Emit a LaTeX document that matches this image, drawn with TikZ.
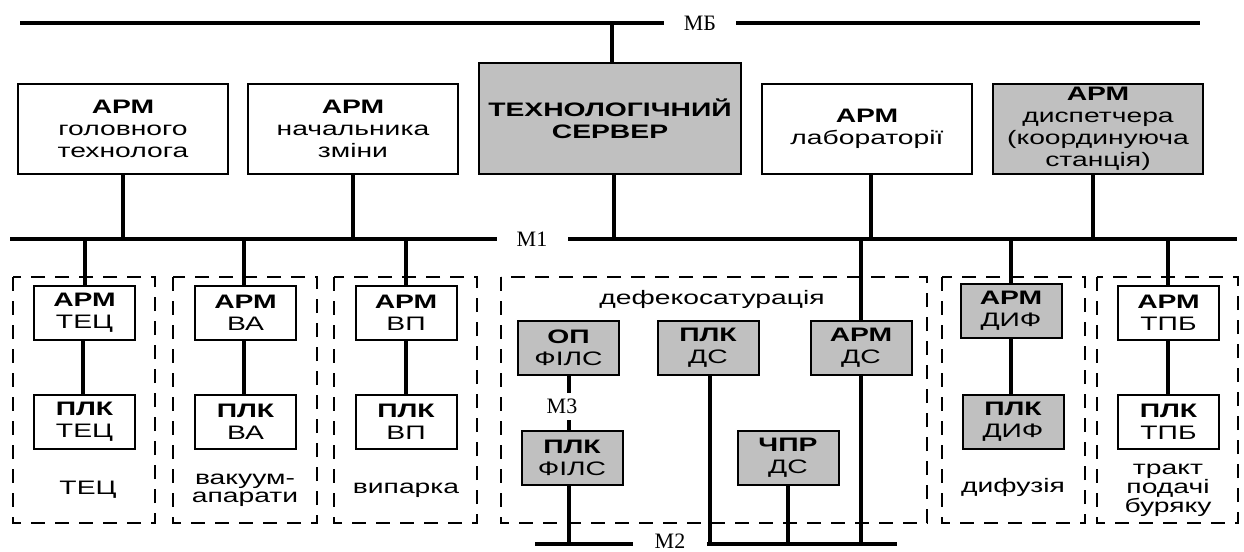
\documentclass[tikz,border=0pt]{standalone}
\usepackage{fontspec}
\setmainfont{Liberation Serif}
\newfontfamily\boxsans[FakeStretch=1.45]{Liberation Sans}
\definecolor{boxgray}{RGB}{192,192,192}
\begin{document}
\begin{tikzpicture}[x=0.5pt,y=-0.5pt,
  box/.style={draw, line width=1pt, rectangle, inner sep=0pt, align=center,
    font=\boxsans\fontsize{9.75}{11}\selectfont},
  topbox/.style={box, minimum width=105pt, minimum height=45pt},
  smallbox/.style={box, minimum width=50.5pt, minimum height=27pt},
  grey/.style={fill=boxgray},
  bus/.style={line width=2pt},
  conn/.style={line width=2pt},
  grp/.style={draw, line width=1pt, dash pattern=on 7pt off 5pt},
  grplabel/.style={align=center, inner sep=0pt, font=\boxsans\fontsize{9.75}{11}\selectfont},
  buslabel/.style={fill=white, inner sep=0pt, font=\fontsize{11}{12}\selectfont,
    minimum width=36pt, minimum height=13pt}
]
\clip (0,0) rectangle (1244,552);
\fill[white] (0,0) rectangle (1244,552);

% buses
\coordinate (mbL) at (20,23);
\coordinate (mbR) at (1200,23);
\coordinate (m1L) at (10,239);
\coordinate (m1R) at (1237,239);
\coordinate (m2L) at (535,544);
\coordinate (m2R) at (897,544);

% top boxes
\node[topbox] (b1) at (123,129) {{\bfseries АРМ}\\головного\\технолога};
\node[topbox] (b2) at (353,129) {{\bfseries АРМ}\\начальника\\зміни};
\node[box, grey, minimum width=131pt, minimum height=55.5pt] (srv) at (610,118.5) {\bfseries ТЕХНОЛОГІЧНИЙ\\\bfseries СЕРВЕР};
\node[topbox] (b4) at (867,129) {{\bfseries АРМ}\\лабораторії};
\node[topbox, grey] (b5) at (1098,129) {{\bfseries АРМ}\\диспетчера\\(координуюча\\станція)};

% dashed groups
\draw[grp] (13,277) rectangle (155,523);
\draw[grp] (173,277) rectangle (317,523);
\draw[grp] (334,277) rectangle (477,523);
\draw[grp] (501,277) rectangle (927,523);
\draw[grp] (942,277) rectangle (1085,523);
\draw[grp] (1097,277) rectangle (1238,523);

% lower boxes
\node[smallbox] (a1) at (84.5,313) {{\bfseries АРМ}\\ТЕЦ};
\node[smallbox] (p1) at (84.5,421.5) {{\bfseries ПЛК}\\ТЕЦ};
\node[smallbox] (a2) at (245.5,313) {{\bfseries АРМ}\\ВА};
\node[smallbox] (p2) at (245.5,421.5) {{\bfseries ПЛК}\\ВА};
\node[smallbox] (a3) at (406,313) {{\bfseries АРМ}\\ВП};
\node[smallbox] (p3) at (406,421.5) {{\bfseries ПЛК}\\ВП};
\node[smallbox, grey] (op) at (568.5,348) {{\bfseries ОП}\\ФІЛС};
\node[smallbox, grey] (pds) at (708,348) {{\bfseries ПЛК}\\ДС};
\node[smallbox, grey] (ads) at (861,348) {{\bfseries АРМ}\\ДС};
\node[smallbox, grey] (pf) at (572,458) {{\bfseries ПЛК}\\ФІЛС};
\node[smallbox, grey] (cds) at (788,458) {{\bfseries ЧПР}\\ДС};
\node[smallbox, grey] (a5) at (1011,311) {{\bfseries АРМ}\\ДИФ};
\node[smallbox, grey] (p5) at (1013,421.5) {{\bfseries ПЛК}\\ДИФ};
\node[smallbox] (a6) at (1168.5,313) {{\bfseries АРМ}\\ТПБ};
\node[smallbox] (p6) at (1168.5,421.5) {{\bfseries ПЛК}\\ТПБ};

% group labels
\node[grplabel] (l1) at (88,490) {ТЕЦ};
\node[grplabel, font=\boxsans\fontsize{9.75}{9}\selectfont] (l2) at (245,490) {вакуум-\\апарати};
\node[grplabel] (l3) at (406,490) {випарка};
\node[grplabel] (l4) at (712,299) {дефекосатурація};
\node[grplabel] (l5) at (1013,487) {дифузія};
\node[grplabel, font=\boxsans\fontsize{9.75}{9.5}\selectfont] (l6) at (1168,490) {тракт\\подачі\\буряку};

% bus lines
\draw[bus] (mbL) -- (mbR);
\draw[bus] (m1L) -- (m1R);
\draw[bus] (m2L) -- (m2R);

% connectors top
\draw[conn] ([xshift=1pt]srv.north) -- ([xshift=1pt]srv.north |- mbL);
\draw[conn] ([xshift=2pt]srv.south) -- ([xshift=2pt]srv.south |- m1L);
\draw[conn] (b1.south) -- (b1.south |- m1L);
\draw[conn] (b2.south) -- (b2.south |- m1L);
\draw[conn] ([xshift=2pt]b4.south) -- ([xshift=2pt]b4.south |- m1L);
\draw[conn] ([xshift=-2.5pt]b5.south) -- ([xshift=-2.5pt]b5.south |- m1L);

% connectors lower
\draw[conn] (a1.north) -- (a1.north |- m1L);
\draw[conn] ([xshift=-1pt]a1.south) -- ([xshift=-1pt]p1.north);
\draw[conn] ([xshift=-1pt]a2.north) -- ([xshift=-1pt]a2.north |- m1L);
\draw[conn] ([xshift=-1pt]a2.south) -- ([xshift=-1pt]p2.north);
\draw[conn] (a3.north) -- (a3.north |- m1L);
\draw[conn] (a3.south) -- (p3.north);
\draw[conn] (a5.north) -- (a5.north |- m1L);
\draw[conn] (a5.south) -- (a5.south |- p5.north);
\draw[conn] ([xshift=-0.5pt]a6.north) -- ([xshift=-0.5pt]a6.north |- m1L);
\draw[conn] ([xshift=-0.5pt]a6.south) -- ([xshift=-0.5pt]p6.north);
\draw[conn] (ads.north) -- (ads.north |- m1L);
\draw[conn] (ads.south) -- (ads.south |- m2L);
\draw[conn] (op.south) -- (op.south |- pf.north);
\draw[conn] ([xshift=-1.5pt]pf.south) -- ([xshift=-1.5pt]pf.south |- m2L);
\draw[conn] ([xshift=1pt]pds.south) -- ([xshift=1pt]pds.south |- m2L);
\draw[conn] (cds.south) -- (cds.south |- m2L);

% bus labels
\node[buslabel] (mb) at (700,23) {МБ};
\node[buslabel, minimum width=35.5pt] (m1) at (532,239) {М1};
\node[buslabel, minimum width=37pt, minimum height=0pt] (m2) at (670,541) {М2};
\node[buslabel, minimum width=35pt, minimum height=13.5pt] (m3) at (562,406) {М3};
\end{tikzpicture}
\end{document}
